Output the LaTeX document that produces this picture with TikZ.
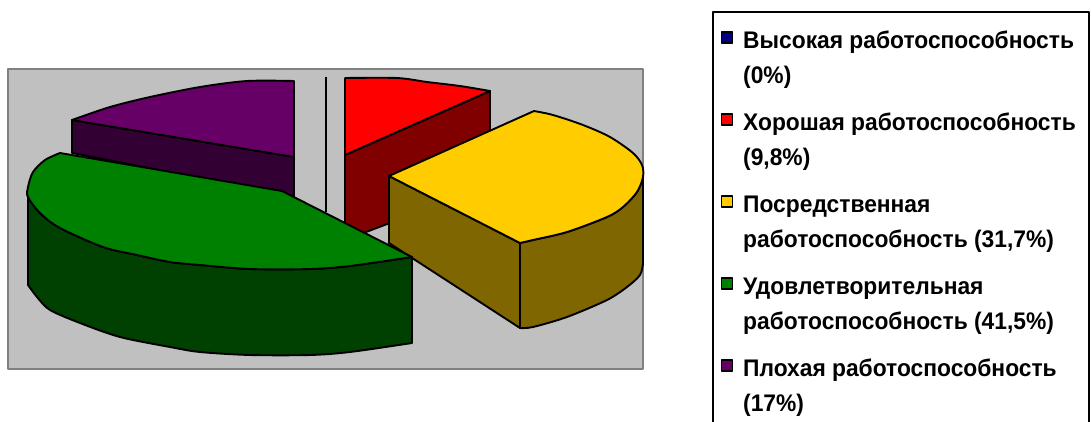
\documentclass[tikz,border=0pt]{standalone}
\usepackage{fontspec}
\setmainfont{Liberation Sans}
\newfontfamily\legfont[FakeStretch=0.95]{Liberation Sans Bold}
\definecolor{plotbg}{HTML}{C0C0C0}
\definecolor{plotborder}{HTML}{808080}
\definecolor{purpletop}{HTML}{660066}
\definecolor{purpleside}{HTML}{330033}
\definecolor{redtop}{HTML}{FF0000}
\definecolor{redside}{HTML}{800000}
\definecolor{yellowtop}{HTML}{FFCC00}
\definecolor{yellowside}{HTML}{806600}
\definecolor{greentop}{HTML}{008000}
\definecolor{greenside}{HTML}{004000}
\definecolor{bluemk}{HTML}{000080}
\begin{document}
\begin{tikzpicture}[x=1pt,y=-1pt,line join=round,
  slice/.style={draw=black,line width=1.9pt},
  mk/.style={draw=black,line width=1.5pt,minimum size=11pt,inner sep=0pt,outer sep=0pt},
  legtext/.style={anchor=base west,inner sep=0pt,font=\legfont\fontsize{24}{28}\selectfont}]
\useasboundingbox (0,0) rectangle (1091,421);
\fill[white] (0,0) rectangle (1091,421);
% plot area
\draw[fill=plotbg,draw=plotborder,line width=2pt] (8,69) rectangle (643,369);
% purple slice
\filldraw[slice,fill=purpleside] (72,120) -- (294,157) -- (294,196) -- (72,153) -- cycle;
\filldraw[slice,fill=purpletop] (294,157) -- plot[smooth] coordinates {(72,120) (110,107) (150,97) (200,87) (247,81) (294,81)} -- cycle;
% blue (0%) slice
\draw[line width=2pt] (326,77) -- (326,212);
% red slice
\filldraw[slice,fill=redside] (345,155) -- (490,91) -- (490,185) -- (345,240) -- cycle;
\filldraw[slice,fill=redtop] (345,155) -- plot[smooth] coordinates {(345,78) (397,78) (427,82) (460,86) (490,91)} -- cycle;
% yellow slice
\filldraw[slice,fill=yellowside] (389,176) -- (520,243) -- (520,328) -- (389,243) -- cycle;
\filldraw[slice,fill=yellowside] plot[smooth] coordinates {(520,243) (533,240) (567,232) (607,217) (623,207) (637,192) (643,177)} -- plot[smooth] coordinates {(643,263) (640,275) (627,287) (607,300) (567,317) (533,327) (520,328)} -- cycle;
\filldraw[slice,fill=yellowtop] (389,176) -- plot[smooth] coordinates {(534,111) (553,115) (583,125) (610,137) (633,153) (642,165) (643,177) (637,192) (623,207) (607,217) (567,232) (533,240) (520,243)} -- cycle;
% green slice
\filldraw[slice,fill=greenside] plot[smooth] coordinates {(28,190) (28,197) (40,213) (60,228) (103,247) (137,255) (170,262) (200,265) (250,269) (310,269) (350,266) (412,257)} -- plot[smooth] coordinates {(412,343) (350,352) (310,355) (250,355) (200,352) (170,347) (120,337) (80,323) (50,310) (37,297) (28,285)} -- cycle;
\filldraw[slice,fill=greentop] (282,191) -- plot[smooth] coordinates {(412,257) (350,266) (310,269) (250,269) (200,265) (170,262) (137,255) (103,247) (60,228) (40,213) (28,197) (28,187) (33,172) (45,160) (60,153)} -- cycle;
% legend
\draw[line width=2pt] (713,440) -- (713,12) -- (1089,12) -- (1089,440);
\node[mk,fill=bluemk] (m1) at (727,37.5) {};
\node[legtext] (t1a) at (743,48) {Высокая работоспособность};
\node[legtext] (t1b) at (743,83.5) {(0\%)};
\node[mk,fill=redtop] (m2) at (727,119.5) {};
\node[legtext] (t2a) at (743,130) {Хорошая работоспособность};
\node[legtext] (t2b) at (743,165.5) {(9,8\%)};
\node[mk,fill=yellowtop] (m3) at (727,201.5) {};
\node[legtext] (t3a) at (743,212) {Посредственная};
\node[legtext] (t3b) at (743,247.5) {работоспособность (31,7\%)};
\node[mk,fill=greentop] (m4) at (727,283.5) {};
\node[legtext] (t4a) at (743,294) {Удовлетворительная};
\node[legtext] (t4b) at (743,329.5) {работоспособность (41,5\%)};
\node[mk,fill=purpletop] (m5) at (727,365.5) {};
\node[legtext] (t5a) at (743,376) {Плохая работоспособность};
\node[legtext] (t5b) at (743,411.5) {(17\%)};
\end{tikzpicture}
\end{document}
